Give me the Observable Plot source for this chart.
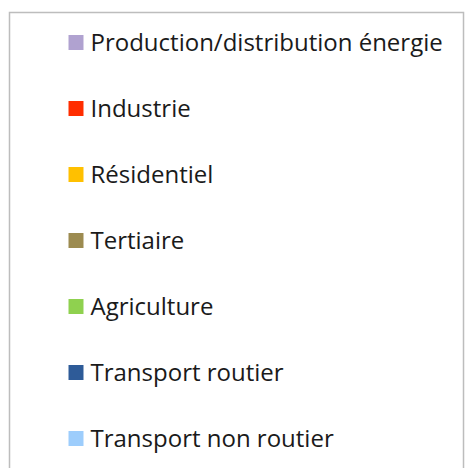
<!DOCTYPE html>
<html><head><meta charset="utf-8">
<script src="https://cdn.jsdelivr.net/npm/d3@7"></script>
<script src="https://cdn.jsdelivr.net/npm/@observablehq/plot@0.6"></script>
<style>
html,body{margin:0;padding:0;background:#fff;overflow:hidden;}
</style>
</head><body>
<div id="chart"></div>
<script>
const categories = [
  "Production/distribution énergie",
  "Industrie",
  "Résidentiel",
  "Tertiaire",
  "Agriculture",
  "Transport routier",
  "Transport non routier"
];
const colors = ["#b0a2d0", "#ff2d00", "#ffc000", "#9c8b50", "#8fd14f", "#2e5b98", "#9dcdfc"];

const rows = categories.map((c, i) => ({name: c, color: colors[i]}));

const chart = Plot.plot({
  width: 465,
  height: 480,
  marginLeft: 9,
  marginTop: 12,
  marginRight: 2,
  marginBottom: 0,
  y: {type: "point", domain: categories, range: [41.5, 437.5], padding: 0, axis: null},
  x: {axis: null},
  style: {fontFamily: "'Open Sans', sans-serif", background: "#fff"},
  marks: [
    Plot.frame({stroke: "#bdbdbd", strokeWidth: 1.5}),
    Plot.dot(rows, {y: "name", frameAnchor: "left", dx: 66.5, symbol: "square", r: 8.46, fill: "color", stroke: "none"}),
    Plot.text(rows, {y: "name", text: "name", frameAnchor: "left", dx: 81, textAnchor: "start", lineAnchor: "middle", fontSize: 24, fill: "#1a1a1a", dy: 1})
  ]
});
document.getElementById("chart").appendChild(chart);
</script>
</body></html>
